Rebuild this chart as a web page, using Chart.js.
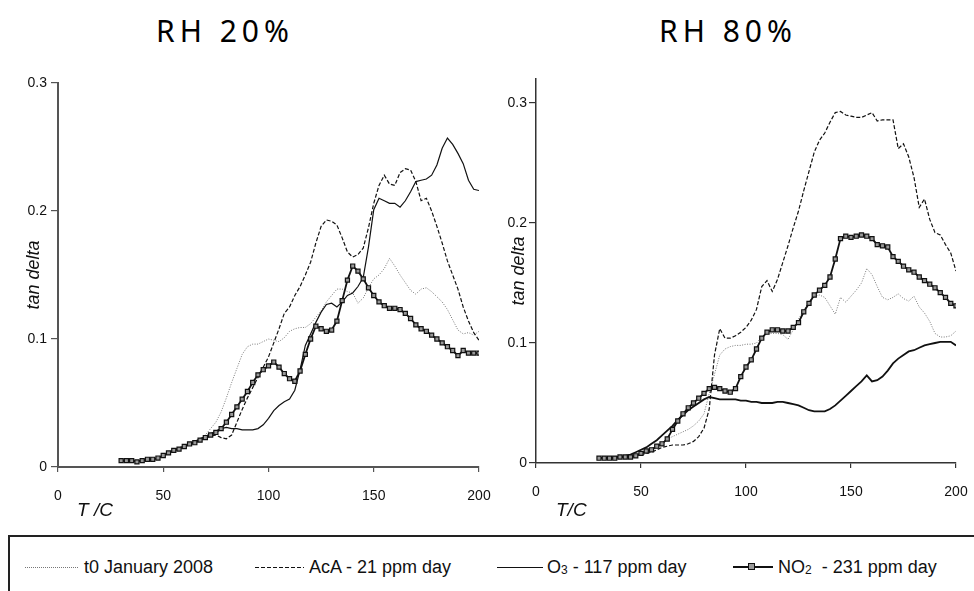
<!DOCTYPE html>
<html>
<head>
<meta charset="utf-8">
<script src="https://cdn.jsdelivr.net/npm/chart.js@4"></script>
<style>
	body { margin: 0; background: #fff; width: 974px; height: 591px; overflow: hidden; position: relative; font-family: "Liberation Sans", Arial, sans-serif; color: #111; }
	canvas { position: absolute; top: 0; }
	.title { position: absolute; top: 10px; width: 300px; text-align: center; font-family: "Noto Sans", sans-serif; font-size: 30px; letter-spacing: 5px; color: #000; }
	.xtitle { position: absolute; top: 499px; font-size: 19px; font-style: italic; }
	.legend-box { position: absolute; left: 8px; top: 535px; width: 990px; height: 90px; border-top: 2px solid #222; border-left: 2px solid #222; }
	.swatch { position: absolute; top: 567px; height: 1px; }
	.ltext { position: absolute; top: 556px; font-size: 18px; line-height: 22px; white-space: pre; }
	.ltext sub { font-size: 12px; vertical-align: baseline; position: relative; top: 1px; }
</style>
</head>
<body>
<div class="title" style="left:75px">RH 20%</div>
<div class="title" style="left:578px">RH 80%</div>

<canvas id="chartLeft" width="520" height="520" style="left:0"></canvas>
<canvas id="chartRight" width="510" height="520" style="left:490px"></canvas>

<div class="xtitle" style="left:77px">T /C</div>
<div class="xtitle" style="left:556px">T/C</div>

<div class="legend-box"></div>
<div class="swatch" style="left:25px;width:53px;background:repeating-linear-gradient(to right,#777 0 1px,transparent 1px 2px)"></div>
<div class="ltext" style="left:84px">t0 January 2008</div>
<div class="swatch" style="left:255px;width:49px;background:repeating-linear-gradient(to right,#111 0 4px,transparent 4px 6px)"></div>
<div class="ltext" style="left:309px">AcA - 21 ppm day</div>
<div class="swatch" style="left:497px;width:46px;background:#111"></div>
<div class="ltext" style="left:547px">O<sub>3</sub> - 117 ppm day</div>
<div class="swatch" style="left:733px;width:40px;height:2px;top:566px;background:#111"></div>
<div style="position:absolute;left:748px;top:563px;width:5px;height:5px;border:1.5px solid #111;background:#999"></div>
<div class="ltext" style="left:778px">NO<sub>2</sub>  - 231 ppm day</div>

<script>
// --- Data (tan delta vs temperature, step 2.5 C) ---
const temps = [30, 32.5, 35, 37.5, 40, 42.5, 45, 47.5, 50, 52.5,
	55, 57.5, 60, 62.5, 65, 67.5, 70, 72.5, 75, 77.5,
	80, 82.5, 85, 87.5, 90, 92.5, 95, 97.5, 100, 102.5,
	105, 107.5, 110, 112.5, 115, 117.5, 120, 122.5, 125, 127.5,
	130, 132.5, 135, 137.5, 140, 142.5, 145, 147.5, 150, 152.5,
	155, 157.5, 160, 162.5, 165, 167.5, 170, 172.5, 175, 177.5,
	180, 182.5, 185, 187.5, 190, 192.5, 195, 197.5, 200];

const xTicks = [0, 50, 100, 150, 200];
const yTicks = [0, 0.1, 0.2, 0.3];
const seriesNames = ["t0 January 2008", "AcA - 21 ppm day", "O3 - 117 ppm day", "NO2 - 231 ppm day"];

// RH 20%
const rh20T0 = [.005, .004, .005, .004, .005, .005, .006, .007, .009, .011,
	.013, .015, .016, .017, .019, .021, .025, .030, .035, .043,
	.054, .066, .077, .088, .094, .096, .096, .098, .100, .099,
	.098, .101, .106, .108, .109, .109, .112, .117, .122, .129,
	.134, .139, .139, .137, .136, .128, .132, .140, .147, .150,
	.155, .163, .157, .150, .144, .138, .135, .139, .140, .137,
	.133, .129, .123, .115, .107, .104, .105, .103, .106];
const rh20AcA = [.005, .005, .005, .005, .005, .006, .006, .007, .009, .011,
	.013, .015, .016, .018, .019, .021, .023, .024, .025, .023,
	.022, .025, .035, .045, .054, .062, .070, .078, .086, .097,
	.108, .120, .125, .134, .141, .150, .160, .175, .188, .193,
	.192, .189, .179, .168, .164, .166, .171, .187, .206, .220,
	.228, .221, .220, .230, .233, .232, .223, .208, .210, .200,
	.188, .175, .161, .150, .139, .125, .114, .105, .099];
const rh20O3 = [.005, .005, .005, .005, .005, .006, .006, .007, .009, .011,
	.013, .015, .016, .018, .020, .022, .024, .026, .028, .030,
	.031, .030, .030, .029, .029, .029, .030, .033, .038, .044,
	.048, .051, .053, .060, .076, .095, .104, .113, .121, .127,
	.128, .125, .129, .134, .136, .141, .148, .172, .201, .210,
	.208, .206, .206, .203, .208, .215, .223, .224, .225, .228,
	.236, .249, .257, .252, .245, .237, .224, .217, .216];
const rh20NO2 = [.005, .005, .005, .004, .005, .006, .006, .007, .009, .011,
	.013, .014, .016, .018, .019, .021, .023, .025, .027, .030,
	.035, .041, .047, .053, .059, .066, .072, .076, .079, .082,
	.078, .073, .069, .067, .075, .088, .100, .110, .108, .106,
	.107, .114, .130, .146, .157, .153, .147, .140, .134, .129,
	.126, .124, .124, .123, .120, .116, .111, .108, .106, .103,
	.100, .097, .094, .091, .087, .091, .089, .089, .089];

// RH 80%
const rh80T0 = [.004, .004, .004, .004, .005, .005, .005, .006, .008, .010,
	.012, .014, .017, .020, .022, .024, .026, .028, .031, .035,
	.041, .058, .074, .090, .095, .097, .098, .098, .099, .099,
	.100, .105, .108, .108, .108, .107, .103, .111, .120, .127,
	.135, .139, .140, .138, .131, .124, .138, .134, .139, .144,
	.150, .162, .157, .147, .138, .136, .138, .141, .137, .135,
	.139, .130, .125, .118, .108, .105, .105, .106, .110];
const rh80AcA = [.004, .004, .004, .004, .005, .005, .005, .006, .007, .008,
	.009, .011, .013, .014, .015, .015, .015, .016, .018, .022,
	.029, .045, .090, .112, .104, .104, .106, .109, .113, .119,
	.128, .147, .152, .143, .153, .167, .181, .196, .210, .227,
	.243, .259, .269, .275, .284, .292, .293, .290, .289, .288,
	.288, .290, .292, .285, .286, .286, .286, .262, .266, .255,
	.238, .213, .220, .203, .192, .190, .182, .175, .160];
const rh80O3 = [.004, .004, .004, .005, .005, .006, .007, .009, .011, .013,
	.016, .019, .023, .027, .031, .036, .040, .044, .047, .050,
	.053, .055, .054, .053, .053, .053, .053, .052, .052, .051,
	.051, .050, .050, .050, .051, .051, .050, .049, .048, .046,
	.044, .043, .043, .043, .045, .048, .052, .056, .060, .064,
	.068, .073, .068, .069, .072, .077, .083, .087, .090, .093,
	.094, .096, .098, .099, .100, .101, .101, .101, .098];
const rh80NO2 = [.004, .004, .004, .004, .005, .005, .005, .006, .008, .010,
	.011, .014, .016, .020, .028, .035, .041, .046, .050, .054,
	.058, .062, .063, .062, .060, .059, .062, .072, .080, .086,
	.095, .104, .109, .111, .111, .110, .110, .113, .117, .126,
	.133, .140, .144, .148, .155, .170, .187, .189, .188, .189,
	.190, .189, .187, .182, .181, .180, .172, .168, .164, .161,
	.159, .155, .152, .149, .146, .142, .138, .133, .131];

const FONT = "'Liberation Sans', Arial, sans-serif";

function toPoints(values) {
	return temps.map((t, i) => ({ x: t, y: values[i] }));
}

function buildDatasets(t0, aca, o3, no2, o3Width) {
	return [
		{
			label: seriesNames[0], data: toPoints(t0), order: 3,
			borderColor: "#777", borderWidth: 1, borderDash: [1, 1.5], pointRadius: 0,
		},
		{
			label: seriesNames[1], data: toPoints(aca), order: 2,
			borderColor: "#111", borderWidth: 1.2, borderDash: [4, 2], pointRadius: 0,
		},
		{
			label: seriesNames[2], data: toPoints(o3), order: 1,
			borderColor: "#111", borderWidth: o3Width, pointRadius: 0,
		},
		{
			label: seriesNames[3], data: toPoints(no2), order: 0,
			borderColor: "#111", borderWidth: 1.8,
			pointStyle: "rect", pointRadius: 2.9,
			pointBackgroundColor: "#999", pointBorderColor: "#111", pointBorderWidth: 1.2,
		},
	];
}

function makeChart(id, cfg) {
	const axisColor = cfg.axisColor;
	return new Chart(document.getElementById(id), {
		type: "line",
		data: { datasets: buildDatasets(cfg.t0, cfg.aca, cfg.o3, cfg.no2, cfg.o3Width) },
		options: {
			responsive: false,
			animation: false,
			layout: { padding: { left: 0, top: cfg.padTop, right: cfg.padRight, bottom: 0 } },
			elements: { line: { tension: 0 } },
			plugins: { legend: { display: false }, tooltip: { enabled: false } },
			scales: {
				x: {
					type: "linear", min: 0, max: 200,
					afterBuildTicks: (s) => { s.ticks = xTicks.map((v) => ({ value: v })); },
					afterFit: (s) => { s.height = cfg.xHeight; },
					ticks: { padding: 16, maxRotation: 0, autoSkip: false, color: "#111", font: { family: FONT, size: 14 }, callback: (v) => String(v) },
					grid: { drawOnChartArea: false, drawTicks: true, tickLength: 5, color: axisColor, lineWidth: 1.2 },
					border: { display: true, color: axisColor, width: cfg.axisWidth },
				},
				y: {
					min: 0, max: cfg.yMax,
					afterBuildTicks: (s) => { s.ticks = yTicks.map((v) => ({ value: v })); },
					afterFit: (s) => { s.width = cfg.yWidth; },
					ticks: { padding: cfg.yPad, color: "#111", font: { family: FONT, size: 14 }, callback: (v) => (v === 0 ? "0" : v.toFixed(1)) },
					grid: { drawOnChartArea: false, drawTicks: true, tickLength: 7, color: axisColor, lineWidth: 1.2 },
					border: { display: true, color: axisColor, width: cfg.axisWidth },
					title: { display: true, text: "tan delta", color: "#111", font: { family: FONT, size: 18, style: "italic" }, padding: { top: cfg.titlePad, bottom: 0 } },
				},
			},
		},
	});
}

document.addEventListener("DOMContentLoaded", () => {
	// --- RH 20% panel ---
	makeChart("chartLeft", {
		t0: rh20T0, aca: rh20AcA, o3: rh20O3, no2: rh20NO2, o3Width: 1.2,
		yMax: 0.3, padTop: 83, padRight: 41, xHeight: 53, yWidth: 58, yPad: 4, titlePad: 23,
		axisColor: "#555", axisWidth: 2,
	});

	// --- RH 80% panel ---
	makeChart("chartRight", {
		t0: rh80T0, aca: rh80AcA, o3: rh80O3, no2: rh80NO2, o3Width: 1.8,
		yMax: 0.32, padTop: 79, padRight: 44, xHeight: 57, yWidth: 46, yPad: 2, titlePad: 18,
		axisColor: "#333", axisWidth: 1.5,
	});
});
</script>
</body>
</html>
